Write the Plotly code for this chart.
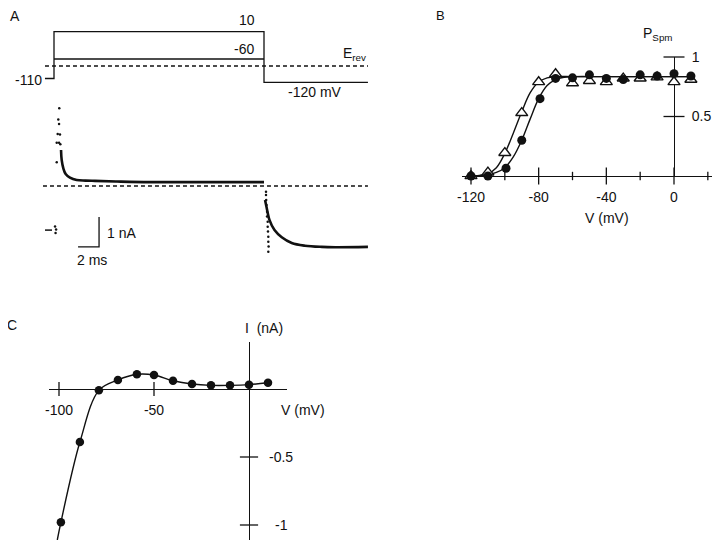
import plotly.graph_objects as go

W, H = 720, 548
OFF = 8  # the page body adds an 8 px margin; pull the layout back by that much

# ---- Panel A: voltage protocol (ms, mV) ----
prot_t = [-0.86, 0, 0, 20, 20, 29.9]
prot_v = [-110, -110, 10, 10, -120, -120]
step60_t = [0, 20]
step60_v = [-60, -60]
erev_t = [-0.86, 29.9]
erev_v = [-78, -78]

# ---- Panel A: current trace (ms, nA) ----
zero_t = [-1.05, 29.9]
zero_i = [0, 0]
pre_t = [-0.86, -0.19]
pre_i = [-1.47, -1.47]
pre_dots_t = [0.10, 0.20, 0.15]
pre_dots_i = [-1.35, -1.45, -1.57]
spike_t = [0.26, 0.26, 0.35, 0.41, 0.48, 0.48, 0.50, 0.57, 0.60]
spike_i = [0.79, 1.44, 1.73, 2.22, 2.07, 1.44, 2.59, 1.72, 1.39]
on_t = [0.67, 0.73, 0.89, 1.11, 1.52, 2.16, 3.0, 3.9, 6.0, 9.1, 14.0, 20.0]
on_i = [1.20, 0.87, 0.59, 0.40, 0.28, 0.20, 0.18, 0.17, 0.15, 0.13, 0.13, 0.13]
tail_t = [20.1, 20.24, 20.52, 21.0, 21.69, 22.64, 23.9, 25.5, 26.8, 29.9]
tail_i = [-0.47, -0.70, -1.13, -1.47, -1.71, -1.90, -1.99, -2.03, -2.04, -2.03]
tail_dots_t = [20.19, 20.19, 20.21, 20.24, 20.29, 20.29, 20.35, 20.35, 20.38, 20.41, 20.41, 20.44, 20.41]
tail_dots_i = [-0.19, -0.30, -0.47, -0.63, -0.86, -1.02, -1.19, -1.36, -1.52, -1.69, -1.86, -2.02, -2.19]
bar_t = [2.29, 4.29, 4.29]   # 2 ms
bar_i = [-2.03, -2.03, -1.03]  # 1 nA

# ---- Panel B: P_Spm vs V ----
tri_v = [-120, -110, -100, -90, -80, -70, -60, -50, -40, -30, -20, -10, 0, 10]
tri_p = [0.0, 0.03, 0.195, 0.53, 0.79, 0.857, 0.78, 0.80, 0.79, 0.82, 0.82, 0.83, 0.79, 0.81]
circ_v = [-120, -110, -99.3, -90, -79.2, -70, -60, -50, -40, -30, -20, -10, 0, 10]
circ_p = [0.0, 0.0, 0.065, 0.30, 0.65, 0.82, 0.825, 0.85, 0.82, 0.81, 0.85, 0.84, 0.86, 0.84]
tri_fit_v = [-122.5, -115, -110, -105, -100, -95, -90, -85, -80, -75, -70, -60, -40, -20, 0, 11.4]
tri_fit_p = [0.0, 0.005, 0.02, 0.07, 0.19, 0.36, 0.54, 0.70, 0.79, 0.825, 0.835, 0.835, 0.835, 0.835, 0.835, 0.835]
circ_fit_v = [-122.5, -115, -110, -105, -100, -95, -90, -85, -80, -75, -70, -65, -60, -40, -20, 0, 11.4]
circ_fit_p = [0.0, 0.003, 0.01, 0.03, 0.07, 0.16, 0.30, 0.48, 0.65, 0.76, 0.81, 0.83, 0.835, 0.835, 0.835, 0.835, 0.835]
b_major = [-120, -80, -40, 0]
b_major_text = ["-120", "-80", "-40", "0"]
b_minor = [-100, -60, -20, 20]
b_yticks = [0.5, 1]
b_yticks_text = ["0.5", "1"]

# ---- Panel C: I-V ----
c_v = [-99, -89, -79, -69, -59, -50, -40, -30, -20, -10, 0, 10]
c_i = [-0.98, -0.39, -0.01, 0.066, 0.108, 0.103, 0.061, 0.037, 0.027, 0.027, 0.032, 0.046]
c_end_v = -100.9   # where the drawn curve leaves the frame
c_end_i = -1.11
c_xticks = [-100, -50]
c_xticks_text = ["-100", "-50"]
c_yticks = [-0.5, -1]
c_ylabels = ["-0.5", "-1"]

INK = "#111111"
LW = 1.3


def xdom(a, b):
    return [(a - OFF) / W, (b - OFF) / W]


def ydom(top, bottom):
    return [1 - (bottom - OFF) / H, 1 - (top - OFF) / H]


fig = go.Figure()


def line(x, y, xa, ya, width=LW, dash=None, shape="linear"):
    fig.add_trace(go.Scatter(x=x, y=y, xaxis=xa, yaxis=ya, mode="lines",
                             line=dict(color=INK, width=width, dash=dash, shape=shape),
                             hoverinfo="skip", showlegend=False, cliponaxis=False))


def dots(x, y, xa, ya, symbol="circle", size=2.5, color=INK, lw=0):
    fig.add_trace(go.Scatter(x=x, y=y, xaxis=xa, yaxis=ya, mode="markers",
                             marker=dict(symbol=symbol, size=size, color=color,
                                         line=dict(color=INK, width=lw)),
                             hoverinfo="skip", showlegend=False, cliponaxis=False))


# Panel A - protocol
line(prot_t, prot_v, "x", "y")
line(step60_t, step60_v, "x", "y")
line(erev_t, erev_v, "x", "y", dash="4px,3px")

# Panel A - current
line(zero_t, zero_i, "x2", "y2", dash="4px,3px")
line(pre_t, pre_i, "x2", "y2", width=1.5)
dots(pre_dots_t, pre_dots_i, "x2", "y2")
dots(spike_t, spike_i, "x2", "y2")
line(on_t, on_i, "x2", "y2", width=2.6, shape="spline")
line(tail_t, tail_i, "x2", "y2", width=2.6, shape="spline")
dots(tail_dots_t, tail_dots_i, "x2", "y2")
line(bar_t, bar_i, "x2", "y2")

# Panel B
line(tri_fit_v, tri_fit_p, "x3", "y3", width=1.4, shape="spline")
line(circ_fit_v, circ_fit_p, "x3", "y3", width=1.4, shape="spline")
dots(b_major, [0] * len(b_major), "x3", "y3", symbol="line-ns", size=12, lw=LW)
dots(b_minor, [0] * len(b_minor), "x3", "y3", symbol="line-ns", size=6, lw=LW)
dots([0] * len(b_yticks), b_yticks, "x3", "y3", symbol="line-ew", size=15, lw=LW)
dots(tri_v, tri_p, "x3", "y3", symbol="triangle-up", size=10.5, color="white", lw=1.4)
dots(circ_v, circ_p, "x3", "y3", symbol="circle", size=9)

# Panel C
line([c_end_v] + c_v, [c_end_i] + c_i, "x4", "y4", width=1.4, shape="spline")
dots(c_xticks, [0] * len(c_xticks), "x4", "y4", symbol="line-ns", size=10, lw=LW)
dots([0] * len(c_yticks), c_yticks, "x4", "y4", symbol="line-ew", size=13, lw=LW)
dots(c_v, c_i, "x4", "y4", symbol="circle", size=8.5)

hidden = dict(visible=False, showgrid=False, zeroline=False)
a_x = dict(hidden, domain=xdom(40, 372), range=[(40 - 54) / 10.5, (372 - 54) / 10.5])

fig.update_layout(
    width=W, height=H,
    margin=dict(l=0, r=0, t=0, b=0, pad=0, autoexpand=False),
    paper_bgcolor="white", plot_bgcolor="white",
    font=dict(family="Liberation Sans, Arial, sans-serif", size=14, color=INK),
    showlegend=False,
    xaxis=dict(a_x, anchor="y"),
    yaxis=dict(hidden, anchor="x", domain=ydom(20, 90),
               range=[-60 - 31 / 0.39, -60 + 39 / 0.39]),
    xaxis2=dict(a_x, anchor="y2"),
    yaxis2=dict(hidden, anchor="x2", domain=ydom(100, 265),
                range=[(186 - 265) / 30, (186 - 100) / 30]),
    xaxis3=dict(anchor="y3", domain=xdom(462, 717),
                range=[(462 - 674) / 1.6917, (717 - 674) / 1.6917],
                showgrid=False, showline=True, linecolor=INK, linewidth=LW,
                zeroline=True, zerolinecolor=INK, zerolinewidth=LW,
                tickvals=b_major, ticktext=b_major_text, ticks="outside", ticklen=8,
                tickcolor="rgba(0,0,0,0)"),
    yaxis3=dict(anchor="free", position=(674 - OFF) / W, side="right",
                domain=ydom(57, 176), range=[0, 1],
                showgrid=False, showline=False, zeroline=False,
                tickvals=b_yticks, ticktext=b_yticks_text,
                ticks="outside", ticklen=14, tickcolor="rgba(0,0,0,0)"),
    xaxis4=dict(anchor="free", position=1 - (389 - OFF) / H, domain=xdom(49, 287),
                range=[(49 - 249) / 1.9, (287 - 249) / 1.9],
                showgrid=False, showline=False,
                zeroline=True, zerolinecolor=INK, zerolinewidth=LW,
                tickvals=c_xticks, ticktext=c_xticks_text, ticks="outside", ticklen=8,
                tickcolor="rgba(0,0,0,0)"),
    yaxis4=dict(anchor="x4", domain=ydom(342, 540),
                range=[(389 - 540) / 136, (389 - 342) / 136],
                showgrid=False, showticklabels=False, showline=False,
                zeroline=True, zerolinecolor=INK, zerolinewidth=LW),
)


def label(text, x, y, xanchor="center", size=14):
    fig.add_annotation(text=text, x=(x - OFF) / W, y=1 - (y - OFF) / H,
                       xref="paper", yref="paper",
                       xanchor=xanchor, yanchor="middle", showarrow=False,
                       font=dict(size=size))


label("A", 15, 16)
label("B", 440, 16, size=13)
label("C", 12, 325)
label("10", 247, 20)
label("-60", 244, 49)
label("E<sub>rev</sub>", 354, 54)
label("-110", 28, 80)
label("-120 mV", 315, 92)
label("1 nA", 121, 233)
label("2 ms", 92, 260)
label("P<sub>Spm</sub>", 641, 34, xanchor="left")
label("V (mV)", 607, 218)
label("I  (nA)", 243, 328, xanchor="left")
label("V (mV)", 303, 410)
for v, t in zip(c_yticks, c_ylabels):
    fig.add_annotation(text=t, x=0, y=v, xref="x4", yref="y4", xshift=32,
                       showarrow=False, xanchor="center", yanchor="middle")

fig.write_html("out.html")
